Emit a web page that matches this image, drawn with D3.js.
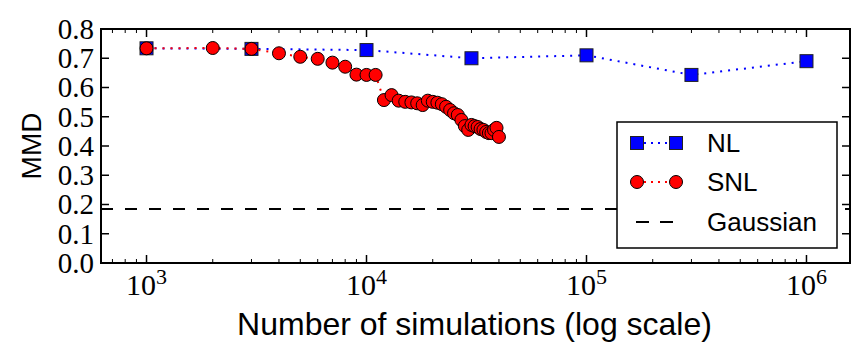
<!DOCTYPE html>
<html>
<head>
<meta charset="utf-8">
<script src="https://cdn.jsdelivr.net/npm/d3@7"></script>
<style>
  body { margin: 0; background: #fff; }
</style>
</head>
<body>
<div id="chart"></div>
<script>
// Data
const nlSims = [1000, 3000, 10000, 30000, 100000, 300000, 1000000];
const nlMMD = [0.734, 0.732, 0.728, 0.700, 0.710, 0.643, 0.690];

const snlSims = [1000, 2000, 3000, 4000, 5000, 6000, 7000, 8000, 9000, 10000,
                 11000, 12000, 13000, 14000, 15000, 16000, 17000, 18000, 19000, 20000,
                 21000, 22000, 23000, 24000, 25000, 26000, 27000, 28000, 29000, 30000,
                 31000, 32000, 33000, 34000, 35000, 36000, 37000, 38000, 39000, 40000];
const snlMMD = [0.734, 0.735, 0.732, 0.717, 0.705, 0.698, 0.685, 0.671, 0.644, 0.643,
                0.643, 0.557, 0.574, 0.555, 0.551, 0.549, 0.546, 0.540, 0.555, 0.551,
                0.548, 0.543, 0.534, 0.523, 0.512, 0.506, 0.489, 0.468, 0.455, 0.472,
                0.468, 0.465, 0.458, 0.455, 0.448, 0.444, 0.444, 0.455, 0.462, 0.431];

const gaussianMMD = 0.185;

const yTicks = [0, 0.1, 0.2, 0.3, 0.4, 0.5, 0.6, 0.7, 0.8];
const xTickExps = [3, 4, 5, 6];
const legendLabels = ['NL', 'SNL', 'Gaussian'];

let width = 865, height = 356;
let plot = { left: 101, right: 850, top: 29, bottom: 263 };

let svg = d3.select('#chart')
            .append('svg')
            .attr('width', width)
            .attr('height', height);

// Scales
let xscale = d3.scaleLog()
               .domain([621, 1.577e6])
               .range([plot.left, plot.right]);

let yscale = d3.scaleLinear()
               .domain([0, 0.8])
               .range([plot.bottom, plot.top]);

let serif = "'Liberation Serif', 'DejaVu Serif', serif";
let sans = "'Liberation Sans', Arial, sans-serif";

// Gaussian reference line (dashed)
svg.append('line')
   .attr('x1', plot.left).attr('x2', plot.right)
   .attr('y1', yscale(gaussianMMD)).attr('y2', yscale(gaussianMMD))
   .attr('stroke', 'black')
   .attr('stroke-width', 2)
   .attr('stroke-dasharray', '12,12');

// NL line + squares
let line = d3.line()
             .x(d => xscale(d[0]))
             .y(d => yscale(d[1]));

let nlData = nlSims.map((s, i) => [s, nlMMD[i]]);
let snlData = snlSims.map((s, i) => [s, snlMMD[i]]);

svg.append('path')
   .datum(nlData)
   .attr('d', line)
   .attr('fill', 'none')
   .attr('stroke', 'blue')
   .attr('stroke-width', 2)
   .attr('stroke-dasharray', '2,6');

svg.selectAll('.nl')
   .data(nlData)
   .enter()
   .append('rect')
   .attr('class', 'nl')
   .attr('x', d => xscale(d[0]) - 6.5)
   .attr('y', d => yscale(d[1]) - 6.5)
   .attr('width', 13)
   .attr('height', 13)
   .attr('fill', 'blue')
   .attr('stroke', '#222')
   .attr('stroke-width', 1);

// SNL line + circles
svg.append('path')
   .datum(snlData)
   .attr('d', line)
   .attr('fill', 'none')
   .attr('stroke', 'red')
   .attr('stroke-width', 2)
   .attr('stroke-dasharray', '2,6');

svg.selectAll('.snl')
   .data(snlData)
   .enter()
   .append('circle')
   .attr('class', 'snl')
   .attr('cx', d => xscale(d[0]))
   .attr('cy', d => yscale(d[1]))
   .attr('r', 6.5)
   .attr('fill', 'red')
   .attr('stroke', 'black')
   .attr('stroke-width', 1);

// Frame
svg.append('rect')
   .attr('x', plot.left).attr('y', plot.top)
   .attr('width', plot.right - plot.left)
   .attr('height', plot.bottom - plot.top)
   .attr('fill', 'none')
   .attr('stroke', 'black')
   .attr('stroke-width', 2);

// Y ticks (inward, left and right)
yTicks.forEach(t => {
    let y = yscale(t);
    svg.append('line').attr('x1', plot.left).attr('x2', plot.left + 8)
       .attr('y1', y).attr('y2', y).attr('stroke', 'black').attr('stroke-width', 1.5);
    svg.append('line').attr('x1', plot.right).attr('x2', plot.right - 8)
       .attr('y1', y).attr('y2', y).attr('stroke', 'black').attr('stroke-width', 1.5);
    svg.append('text')
       .attr('x', plot.left - 7)
       .attr('y', y)
       .attr('dy', '0.34em')
       .style('text-anchor', 'end')
       .style('font-family', serif)
       .style('font-size', '29px')
       .text(d3.format('.1f')(t));
});

// X ticks: major decades and log minor ticks (top and bottom)
let dom = xscale.domain();
let minors = [];
for (let e = 2; e <= 6; e++) {
    for (let m = 2; m <= 9; m++) {
        let v = m * Math.pow(10, e);
        if (v > dom[0] && v < dom[1]) minors.push(v);
    }
}
minors.forEach(v => {
    let x = xscale(v);
    svg.append('line').attr('x1', x).attr('x2', x)
       .attr('y1', plot.bottom).attr('y2', plot.bottom - 4)
       .attr('stroke', 'black').attr('stroke-width', 1);
    svg.append('line').attr('x1', x).attr('x2', x)
       .attr('y1', plot.top).attr('y2', plot.top + 4)
       .attr('stroke', 'black').attr('stroke-width', 1);
});

xTickExps.forEach(e => {
    let x = xscale(Math.pow(10, e));
    svg.append('line').attr('x1', x).attr('x2', x)
       .attr('y1', plot.bottom).attr('y2', plot.bottom - 8)
       .attr('stroke', 'black').attr('stroke-width', 1.5);
    svg.append('line').attr('x1', x).attr('x2', x)
       .attr('y1', plot.top).attr('y2', plot.top + 8)
       .attr('stroke', 'black').attr('stroke-width', 1.5);
    let label = svg.append('text')
       .attr('x', x)
       .attr('y', 295)
       .style('text-anchor', 'middle')
       .style('font-family', serif)
       .style('font-size', '30px');
    label.append('tspan').text('10');
    label.append('tspan')
         .attr('dy', -11)
         .style('font-size', '22px')
         .text(e);
});

// Axis labels
svg.append('text')
   .attr('x', (plot.left + plot.right) / 2 - 1)
   .attr('y', 335)
   .style('text-anchor', 'middle')
   .style('font-family', sans)
   .style('font-size', '32px')
   .text('Number of simulations (log scale)');

svg.append('text')
   .attr('transform', `translate(41, ${(plot.top + plot.bottom) / 2}) rotate(-90)`)
   .style('text-anchor', 'middle')
   .style('font-family', sans)
   .style('font-size', '28px')
   .text('MMD');

// Legend
let lg = { x: 617, y: 122, w: 220, h: 126 };
svg.append('rect')
   .attr('x', lg.x).attr('y', lg.y)
   .attr('width', lg.w).attr('height', lg.h)
   .attr('fill', 'white')
   .attr('stroke', 'black')
   .attr('stroke-width', 1.5);

let rowY = [143, 182, 222];
let x1 = 637, x2 = 676;

// NL entry
svg.append('line').attr('x1', x1).attr('x2', x2).attr('y1', rowY[0]).attr('y2', rowY[0])
   .attr('stroke', 'blue').attr('stroke-width', 2).attr('stroke-dasharray', '2,5');
[x1, x2].forEach(x => {
    svg.append('rect').attr('x', x - 6.5).attr('y', rowY[0] - 6.5)
       .attr('width', 13).attr('height', 13)
       .attr('fill', 'blue').attr('stroke', '#222').attr('stroke-width', 1);
});

// SNL entry
svg.append('line').attr('x1', x1).attr('x2', x2).attr('y1', rowY[1]).attr('y2', rowY[1])
   .attr('stroke', 'red').attr('stroke-width', 2).attr('stroke-dasharray', '2,5');
[x1, x2].forEach(x => {
    svg.append('circle').attr('cx', x).attr('cy', rowY[1]).attr('r', 6.5)
       .attr('fill', 'red').attr('stroke', 'black').attr('stroke-width', 1);
});

// Gaussian entry
svg.append('line').attr('x1', x1 - 1).attr('x2', x2 - 2).attr('y1', rowY[2]).attr('y2', rowY[2])
   .attr('stroke', 'black').attr('stroke-width', 2).attr('stroke-dasharray', '13,11');

legendLabels.forEach((l, i) => {
    svg.append('text')
       .attr('x', 707)
       .attr('y', rowY[i])
       .attr('dy', '0.36em')
       .style('font-family', sans)
       .style('font-size', '26px')
       .text(l);
});
</script>
</body>
</html>
